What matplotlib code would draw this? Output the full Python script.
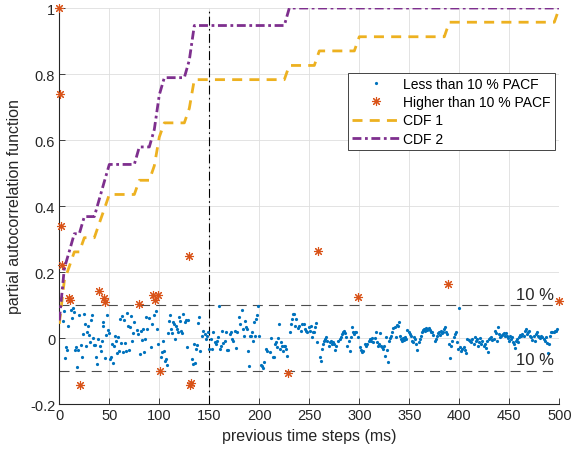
import matplotlib
matplotlib.use("Agg")
import matplotlib.pyplot as plt

plt.rcParams['font.family'] = ['Liberation Sans', 'DejaVu Sans']
plt.rcParams['axes.unicode_minus'] = False

# lags (ms) and PACF values of the points above 10 %
high_lag = [0, 1, 2, 3, 10, 11, 21, 40, 45, 46, 80, 94, 96, 99, 101, 130, 131, 132, 229, 259, 299, 389, 500]
high_val = [1.0, 0.74, 0.34, 0.22, 0.12, 0.115, -0.142, 0.141, 0.12, 0.108, 0.103, 0.13, 0.116, 0.13, -0.101,
            0.25, -0.142, -0.136, -0.107, 0.265, 0.123, 0.163, 0.113]

# lags (ms) and PACF values of the points below 10 %
low_lag = [4, 5, 6, 7, 8, 9, 12, 13, 14, 15, 16, 17, 18, 19, 20, 22, 23, 24, 25, 26, 27, 28, 29, 30,
           31, 32, 33, 34, 35, 36, 37, 38, 39, 41, 42, 43, 44, 44, 46, 47, 48, 49, 50, 51, 52, 53, 54, 55,
           56, 57, 58, 59, 60, 61, 62, 63, 64, 65, 66, 67, 68, 69, 70, 71, 72, 73, 74, 75, 78, 79, 81, 82,
           83, 84, 85, 86, 87, 88, 90, 92, 93, 95, 97, 98, 99,
           102, 103, 104, 105, 106, 107, 108, 109, 110, 111, 112, 113, 114, 115, 116, 117, 118, 119, 120,
           121, 122, 123, 124, 126, 127, 128, 129, 133, 134, 135, 136, 137, 138, 139, 140, 141, 143, 144,
           146, 147, 148, 149, 150, 152, 153, 154, 156, 157, 158, 159, 160, 161, 162, 163, 164, 166, 167,
           168, 169, 171, 172, 173, 174, 176, 177, 178, 180, 181, 183, 184, 185, 186, 187, 188, 189, 190,
           191, 192, 193, 195, 196, 197, 198,
           194, 199, 200, 202, 203, 204, 205, 207, 208, 211, 212, 214, 215, 216, 217, 218, 219, 220, 221,
           222, 223, 224, 225, 226, 227, 228, 231, 232, 233, 234, 235, 236, 237, 239, 240, 242, 243, 245,
           246, 247, 248, 250, 251, 252, 253, 254, 255, 256, 257, 258, 261, 262, 263, 264, 265, 266, 267,
           268, 270, 271, 272, 273, 274, 275, 276, 277, 279, 281, 282, 283, 284, 285, 286, 287, 288, 290,
           291, 292, 293, 294, 295, 296, 297,
           299, 301, 302, 303, 304, 306, 307, 308, 310, 311, 312, 313, 314, 316, 317, 318, 319, 320, 321,
           322, 323, 324, 325, 326, 327, 328, 329, 330, 331, 332, 333, 334, 336, 337, 338, 339, 340, 341,
           342, 343, 344, 345, 346, 347, 348, 350, 351, 352, 353, 354, 355, 356, 357, 358, 360, 361, 362,
           363, 364, 365, 366, 367, 368, 369, 370, 371, 372, 373, 374, 376, 377, 378, 379, 380, 381, 382,
           383, 384, 385, 386, 387, 388, 390, 391, 392, 393, 395, 396, 397, 398, 399, 400,
           401, 402, 403, 405, 406, 407, 408, 410, 411, 412, 413, 415, 416, 417, 418, 419, 420, 421, 422,
           423, 425, 426, 427, 428, 429, 430, 431, 432, 433, 435, 436, 437, 438, 439, 440, 441, 442, 443,
           444, 445, 446, 447, 448, 449, 450, 451, 452, 453, 454, 455, 456, 457, 458, 459, 460, 461, 462,
           463, 465, 466, 467, 468, 469, 470, 471, 472, 473, 475, 476, 477, 478, 479, 480, 481, 482, 483,
           485, 486, 487, 488, 489, 490, 491, 492, 493, 495, 496, 497, 498]
low_val = [0.051, 0.081, -0.061, -0.026, -0.037, 0.037, 0.086, 0.061, 0.090, 0.078, -0.035, -0.027, -0.087,
           -0.036, 0.070, -0.020, -0.059, 0.012, 0.072, 0.042, -0.025, 0.019, 0.035, 0.009, -0.013, 0.056,
           0.070, 0.001, -0.022, -0.021, -0.057, -0.079, -0.003, -0.023, -0.038, -0.010, 0.036, 0.050,
           -0.061, 0.009, 0.070, 0.025, 0.015, -0.064, -0.059, -0.018, -0.077, -0.023, 0.007, -0.008,
           -0.045, 0.002, -0.038, 0.058, -0.015, 0.066, -0.041, 0.056, -0.015, -0.040, 0.075, 0.035,
           -0.035, 0.032, 0.068, -0.009, 0.015, 0.050, 0.024, 0.012, -0.048, 0.022, -0.006, 0.027, -0.043,
           -0.003, 0.063, 0.027, 0.060, -0.028, 0.044, 0.070, 0.083, 0.027, -0.018,
           -0.057, -0.041, -0.008, -0.038, -0.071, -0.064, -0.082, 0.014, 0.053, 0.070, 0.027, 0.014,
           0.050, 0.041, -0.003, 0.035, 0.027, 0.017, 0.063, 0.052, 0.022, 0.015, 0.072, 0.050, 0.056,
           -0.028, 0.056, -0.064, -0.079, -0.018, -0.076, -0.033, -0.021, 0.047, 0.064, -0.039, 0.005,
           0.022, 0.012, -0.003, 0.007, 0.017, -0.033, -0.003, -0.033, 0.019, -0.011, -0.018, -0.008,
           0.004, 0.096, -0.033, -0.023, 0.020, -0.015, -0.008, 0.017, -0.035, -0.036, 0.012, 0.017,
           -0.003, -0.008, 0.022, -0.031, 0.017, 0.065, 0.042, 0.086, 0.027, 0.005, 0.053, 0.032, 0.027,
           -0.040, -0.086, 0.007, 0.005, 0.017, 0.050, 0.007, 0.058, 0.070,
           -0.008, 0.098, 0.007, -0.082, -0.086, -0.092, -0.074, -0.033, -0.038, -0.043, -0.001, -0.059,
           -0.056, -0.018, -0.013, -0.028, -0.001, 0.042, -0.033, -0.011, -0.023, -0.038, -0.025, -0.023,
           -0.033, -0.054, 0.017, 0.044, 0.058, 0.073, 0.073, 0.037, 0.058, 0.029, 0.037, 0.022, 0.042,
           0.042, 0.027, 0.022, 0.019, 0.032, 0.022, 0.037, 0.002, 0.017, 0.019, 0.032, 0.047, -0.011,
           -0.059, -0.069, -0.033, -0.018, -0.008, -0.003, 0.002, -0.008, -0.023, -0.013, -0.008, -0.018,
           -0.013, -0.018, -0.035, -0.023, -0.008, -0.003, 0.002, 0.012, 0.017, 0.022, 0.015, 0.002,
           -0.023, -0.008, -0.038, 0.002, 0.032, 0.017, 0.012, 0.019, 0.017,
           0.002, -0.028, -0.035, -0.043, -0.038, -0.018, -0.023, -0.018, -0.008, -0.003, -0.008, -0.001,
           -0.011, -0.001, 0.017, -0.013, -0.023, -0.018, 0.015, -0.023, -0.028, -0.033, -0.023, -0.054,
           0.002, -0.035, -0.074, -0.008, -0.001, 0.005, 0.017, 0.029, 0.032, 0.002, 0.040, 0.035, 0.049,
           0.007, -0.003, -0.008, -0.001, -0.005, 0.002, -0.003, 0.024, 0.019, 0.012, 0.007, -0.008,
           -0.013, 0.002, -0.003, -0.018, -0.035, -0.013, -0.003, 0.007, 0.017, 0.025, 0.027, 0.022,
           0.029, 0.025, 0.027, 0.029, 0.025, 0.019, 0.017, 0.009, -0.008, -0.003, 0.007, 0.015, 0.017,
           0.009, 0.022, 0.015, 0.017, 0.027, 0.032, 0.017, 0.012, -0.018, -0.062, -0.023, -0.008, 0.002,
           0.012, 0.017, -0.013, -0.033, 0.090,
           -0.028, -0.038, -0.033, -0.028, -0.035, -0.045, -0.003, -0.005, -0.008, -0.013, -0.003, -0.018,
           0.002, -0.008, -0.003, -0.023, -0.013, -0.001, -0.018, -0.008, -0.023, -0.018, -0.031, -0.008,
           -0.043, -0.003, -0.001, 0.002, -0.005, -0.003, 0.022, 0.015, -0.008, 0.034, 0.012, 0.002,
           0.007, 0.009, 0.012, 0.015, 0.007, 0.015, 0.007, -0.001, -0.008, 0.007, -0.003, 0.002, -0.011,
           -0.018, -0.031, -0.008, -0.003, -0.013, 0.002, 0.009, 0.005, 0.012, 0.007, 0.022, 0.027, 0.012,
           0.017, 0.022, 0.007, 0.002, -0.005, 0.005, -0.008, 0.012, 0.017, 0.007, 0.002, -0.001, 0.005,
           0.002, -0.003, -0.008, 0.002, -0.015, -0.045, -0.018, 0.007, 0.017, 0.019, 0.017, 0.022, 0.022,
           0.027]

# corners of the two cumulative curves
cdf1_x = [0, 5, 10, 15, 20, 25, 35, 40, 45, 50, 75, 80, 90, 95, 100, 105, 125, 130, 135, 225, 230,
          255, 260, 295, 300, 385, 390, 495, 500]
cdf1_y = [0.043, 0.174, 0.217, 0.261, 0.261, 0.304, 0.304, 0.348, 0.391, 0.435, 0.435, 0.478, 0.478,
          0.522, 0.609, 0.652, 0.652, 0.696, 0.783, 0.783, 0.826, 0.826, 0.870, 0.870, 0.913, 0.913,
          0.957, 0.957, 1.0]
cdf2_x = [0, 5, 10, 15, 20, 25, 35, 40, 45, 50, 75, 80, 90, 95, 100, 105, 125, 130, 135, 225, 230, 500]
cdf2_y = [0.053, 0.211, 0.263, 0.316, 0.316, 0.368, 0.368, 0.421, 0.474, 0.526, 0.526, 0.579, 0.579,
          0.632, 0.737, 0.789, 0.789, 0.842, 0.947, 0.947, 1.0, 1.0]

xticks = [0, 50, 100, 150, 200, 250, 300, 350, 400, 450, 500]
yticks = [-0.2, 0, 0.2, 0.4, 0.6, 0.8, 1]
ytick_labels = ['-0.2', '0', '0.2', '0.4', '0.6', '0.8', '1']

fig = plt.figure(figsize=(5.72, 4.56), dpi=100)
ax = fig.add_axes([0.1037, 0.1118, 0.8741, 0.8684])

ax.plot(low_lag, low_val, 'o', color='#0072BD', ms=2.3, mew=0, label='Less than 10 % PACF', zorder=3)
ax.plot(high_lag, high_val, ls='none', marker=(8, 2, 0), color='#D95319', ms=6.5, mew=0.8,
        label='Higher than 10 % PACF', clip_on=False, zorder=4)
ax.plot(cdf1_x, cdf1_y, color='#EDB120', lw=2, dashes=(3.6, 2.6), label='CDF 1', zorder=5)
ax.plot(cdf2_x, cdf2_y, color='#7E2F8E', lw=2, dashes=(3.2, 1.3, 1, 1.3), label='CDF 2', zorder=5)

# 10 % limits and the 150 ms mark
ax.axhline(0.1, color='#4d4d4d', lw=0.8, ls=(0, (9, 5.5)), zorder=2)
ax.axhline(-0.1, color='#4d4d4d', lw=0.8, ls=(0, (9, 5.5)), zorder=2)
ax.axvline(150, color='k', lw=0.8, ls=(0, (8, 3, 1.5, 3)), zorder=2)
ax.text(476, 0.133, '10 %', fontsize=12, ha='center', va='center', color='#262626')
ax.text(476, -0.066, '10 %', fontsize=12, ha='center', va='center', color='#262626')

ax.set_xlim(0, 500)
ax.set_ylim(-0.2, 1)
ax.set_xticks(xticks)
ax.set_yticks(yticks)
ax.set_yticklabels(ytick_labels)
ax.tick_params(direction='in', length=4, width=0.6, labelsize=10.5, colors='#262626', pad=3)
ax.grid(True, color='#dedede', lw=0.6)
ax.set_axisbelow(True)
for s in ['top', 'right']:
    ax.spines[s].set_visible(False)
for s in ['left', 'bottom']:
    ax.spines[s].set_color('#262626')
    ax.spines[s].set_linewidth(0.8)

ax.set_xlabel('previous time steps (ms)', fontsize=11.5, color='#262626', labelpad=4)
ax.set_ylabel('partial autocorrelation function', fontsize=11.5, color='#262626', labelpad=6)

leg = ax.legend(loc='upper right', bbox_to_anchor=(0.991, 0.836), fontsize=10, frameon=True,
                fancybox=False, framealpha=1, edgecolor='#262626', borderaxespad=0, borderpad=0.3,
                labelspacing=0.3, handlelength=3.4, handletextpad=0.25)
leg.get_frame().set_linewidth(0.6)

fig.savefig('out.png', dpi=100)
